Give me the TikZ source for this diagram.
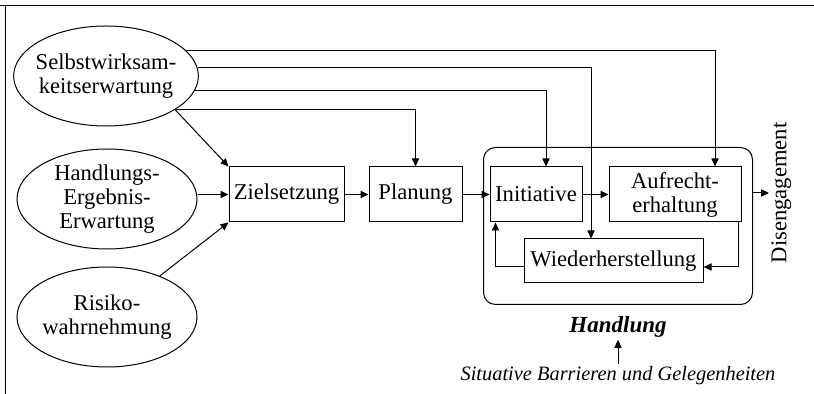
\documentclass[tikz,border=0pt]{standalone}
\usepackage{fontspec}
\setmainfont{Liberation Serif}
\usetikzlibrary{positioning,arrows.meta,calc,shapes.geometric,fit}

\begin{document}
\begin{tikzpicture}[x=0.5pt, y=-0.5pt, >={Triangle[length=4pt,width=3.6pt]},
  line width=0.5pt, node distance=12pt,
  every node/.style={font=\fontsize{11.3}{12}\selectfont, align=center},
  oval/.style={draw, ellipse, inner xsep=-2.5pt, inner ysep=0pt,
    minimum width=90pt, minimum height=50pt},
  stage/.style={draw, minimum height=27.5pt, inner sep=2pt}]
  \useasboundingbox (0,0) rectangle (814,394);
  % rule on top, margin line on the left
  \draw (0,6) -- (814,6);
  \draw (5,6) -- (5,394);

  \node[oval] (selbst) at (106,76) {Selbstwirksam-\\keitserwartung};
  \node[oval] (hee) at (107,199) {Handlungs-\\Ergebnis-\\Erwartung};
  \node[oval] (risiko) at (107,317) {Risiko-\\wahrnehmung};

  \node[stage, minimum width=57.5pt] (ziel) at (286.5,194.5) {Zielsetzung};
  \node[stage, minimum width=46.5pt, right=of ziel] (plan) {Planung};
  \node[stage, minimum width=46pt, right=13.5pt of plan] (init) {Initiative};
  \node[stage, minimum width=66pt, right=13pt of init] (aufr) {Aufrecht-\\erhaltung};
  \node[stage, minimum width=89.5pt, minimum height=22pt] (wied) at (613.5,261) {Wiederherstellung};

  % action phase
  \node[draw, rounded corners=6pt, inner sep=0pt,
    fit={($(init.north west)+(-6,-19)$) ($(aufr.east |- wied.south)+(11,21)$)}] (hdl) {};
  \node[below=4.5pt of hdl, inner sep=1pt,
    font=\fontsize{11.5}{12}\selectfont\bfseries\itshape] (hlab) {Handlung};
  \node[below=12pt of hlab, inner sep=1pt,
    font=\fontsize{10.2}{12}\selectfont\itshape] (sit) {Situative Barrieren und Gelegenheiten};
  \node[rotate=90, anchor=north, inner sep=1pt] (dis) at (769,193) {Disengagement};

  % self-efficacy feeds every stage
  \draw[->] (selbst.18) -| ($(aufr.north)+(40,0)$);
  \draw[->] (selbst.5) -| ($(wied.north)+(-22.5,0)$);
  \draw[->] (selbst.351) -| ($(init.north)+(10,0)$);
  \draw[->] (selbst.334) -| (plan.north);
  \draw[->] (selbst.334) -- (ziel.north west);
  \draw[->] (ziel.west -| hee.east) -- (ziel.west);
  \draw[->] (risiko) -- (ziel.south west);

  \draw[->] (ziel) -- (plan);
  \draw[->] (plan) -- (init);
  \draw[->] (init) -- (aufr);
  \draw[->] ($(aufr.south east)+(-3,0)$) |- ($(wied.east)+(0,6)$);
  \draw[->] ($(wied.west)+(0,6)$) -| ($(init.south west)+(6,0)$);
  \draw[->] (dis.north -| hdl.east) -- (dis.north);
  \draw[->] (sit) -- (hlab);
\end{tikzpicture}
\end{document}
